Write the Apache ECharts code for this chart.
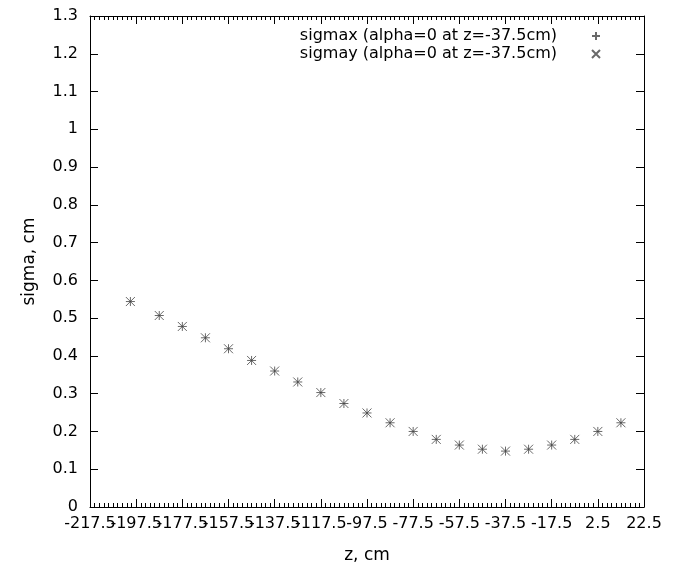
<!DOCTYPE html>
<html>
<head>
<meta charset="utf-8">
<script src="https://cdn.jsdelivr.net/npm/echarts@6/dist/echarts.min.js"></script>
<style>html,body{margin:0;padding:0;background:#fff;}#chart{width:679px;height:569px;}</style>
</head>
<body>
<div id="chart"></div>
<script>
// z positions (cm)
var zValues = [-200, -187.5, -177.5, -167.5, -157.5, -147.5, -137.5, -127.5, -117.5, -107.5, -97.5,
               -87.5, -77.5, -67.5, -57.5, -47.5, -37.5, -27.5, -17.5, -7.5, 2.5, 12.5];
// sigma values (cm)
var sigmax = [0.544, 0.507, 0.478, 0.448, 0.419, 0.388, 0.360, 0.331, 0.303, 0.274, 0.249,
              0.223, 0.200, 0.179, 0.164, 0.153, 0.148, 0.153, 0.164, 0.179, 0.200, 0.223];
var sigmay = [0.544, 0.507, 0.478, 0.448, 0.419, 0.388, 0.360, 0.331, 0.303, 0.274, 0.249,
              0.223, 0.200, 0.179, 0.164, 0.153, 0.148, 0.153, 0.164, 0.179, 0.200, 0.223];
var seriesNames = ['sigmax (alpha=0 at z=-37.5cm)', 'sigmay (alpha=0 at z=-37.5cm)'];
var xMin = -217.5, xMax = 22.5, xStep = 20;
var yMin = 0, yMax = 1.3, yStep = 0.1;

var FONT = 'DejaVu Sans';
var plusPath = 'path://M0,5L10,5M5,0L5,10';
var crossPath = 'path://M0,0L10,10M10,0L0,10';

function pairs(xs, ys) { return xs.map(function (x, i) { return [x, ys[i]]; }); }
function fmt(v) { return String(Math.round(v * 10) / 10); }

function baseAxis(kind, position) {
  var isX = kind === 'x';
  return {
    type: 'value', position: position,
    min: isX ? xMin : yMin, max: isX ? xMax : yMax, interval: isX ? xStep : yStep,
    axisLine: { show: false, onZero: false },
    axisTick: { show: false },
    minorTick: { show: false },
    splitLine: { show: false },
    minorSplitLine: { show: false },
    axisLabel: { show: false }
  };
}
// frame axis: placed on the opposite side and moved onto the wanted edge through onZero,
// so that its outward ticks point into the plot (gnuplot style)
function frameAxis(kind, position, zeroAxisIndex) {
  var ax = baseAxis(kind, position);
  ax.axisLine = { show: true, onZero: true, onZeroAxisIndex: zeroAxisIndex,
    lineStyle: { color: '#000', width: 1 } };
  ax.axisTick = { show: true, inside: false, length: 8, lineStyle: { color: '#000', width: 1 } };
  if (kind === 'x') {
    ax.minorTick = { show: true, splitNumber: 10, length: 4, lineStyle: { color: '#000', width: 1 } };
  }
  return ax;
}
// hidden helper axis whose zero lies on one edge of the plot
function helperAxis(min, max) {
  return { type: 'value', show: false, min: min, max: max,
    axisLine: { show: false, onZero: false }, splitLine: { show: false } };
}

var xLabels = baseAxis('x', 'bottom');
xLabels.axisLabel = { show: true, margin: 9, fontFamily: FONT, fontSize: 16, color: '#000',
  showMinLabel: false, formatter: fmt };
xLabels.name = 'z, cm'; xLabels.nameLocation = 'middle'; xLabels.nameGap = 40;
xLabels.nameTextStyle = { fontFamily: FONT, fontSize: 17, color: '#000' };

var xMinLabel = baseAxis('x', 'bottom');
xMinLabel.axisLabel = { show: true, margin: 9, fontFamily: FONT, fontSize: 16, color: '#000',
  showMinLabel: true,
  formatter: function (v) { return Math.abs(v - xMin) < 1e-6 ? fmt(v) : ''; } };

var yLabels = baseAxis('y', 'left');
yLabels.axisLabel = { show: true, margin: 12, fontFamily: FONT, fontSize: 16, color: '#000', formatter: fmt };
yLabels.name = 'sigma, cm'; yLabels.nameLocation = 'middle'; yLabels.nameGap = 52; yLabels.nameRotate = 90;
yLabels.nameTextStyle = { fontFamily: FONT, fontSize: 17, color: '#000' };

var xSpan = xMax - xMin, ySpan = yMax - yMin;

var chart = echarts.init(document.getElementById('chart'), null, { renderer: 'canvas' });

chart.setOption({
  animation: false,
  backgroundColor: '#fff',
  grid: { left: 90, right: 35, top: 16, bottom: 60, containLabel: false },
  legend: {
    orient: 'vertical', align: 'right', right: 73, top: 23, itemGap: 2,
    itemWidth: 8, itemHeight: 8,
    textStyle: { fontFamily: FONT, fontSize: 16, color: '#000', padding: [0, 30, 0, 0] },
    data: seriesNames
  },
  xAxis: [
    xLabels,                         // 0: labels + name, data axis
    xMinLabel,                       // 1: min label only
    frameAxis('x', 'top', 0),        // 2: bottom edge, ticks up
    frameAxis('x', 'bottom', 3),     // 3: top edge, ticks down
    helperAxis(0, xSpan),            // 4: zero at left edge
    helperAxis(-xSpan, 0)            // 5: zero at right edge
  ],
  yAxis: [
    yLabels,                         // 0: labels + name, data axis
    frameAxis('y', 'right', 4),      // 1: left edge, ticks right
    frameAxis('y', 'left', 5),       // 2: right edge, ticks left
    helperAxis(-ySpan, 0)            // 3: zero at top edge
  ],
  series: [
    { name: seriesNames[0], type: 'scatter', xAxisIndex: 0, yAxisIndex: 0,
      symbol: plusPath, symbolSize: 9,
      itemStyle: { color: 'rgba(0,0,0,0)', borderColor: '#444', borderWidth: 1 },
      data: pairs(zValues, sigmax) },
    { name: seriesNames[1], type: 'scatter', xAxisIndex: 0, yAxisIndex: 0,
      symbol: crossPath, symbolSize: 9,
      itemStyle: { color: 'rgba(0,0,0,0)', borderColor: '#444', borderWidth: 1 },
      data: pairs(zValues, sigmay) }
  ]
});
</script>
</body>
</html>
